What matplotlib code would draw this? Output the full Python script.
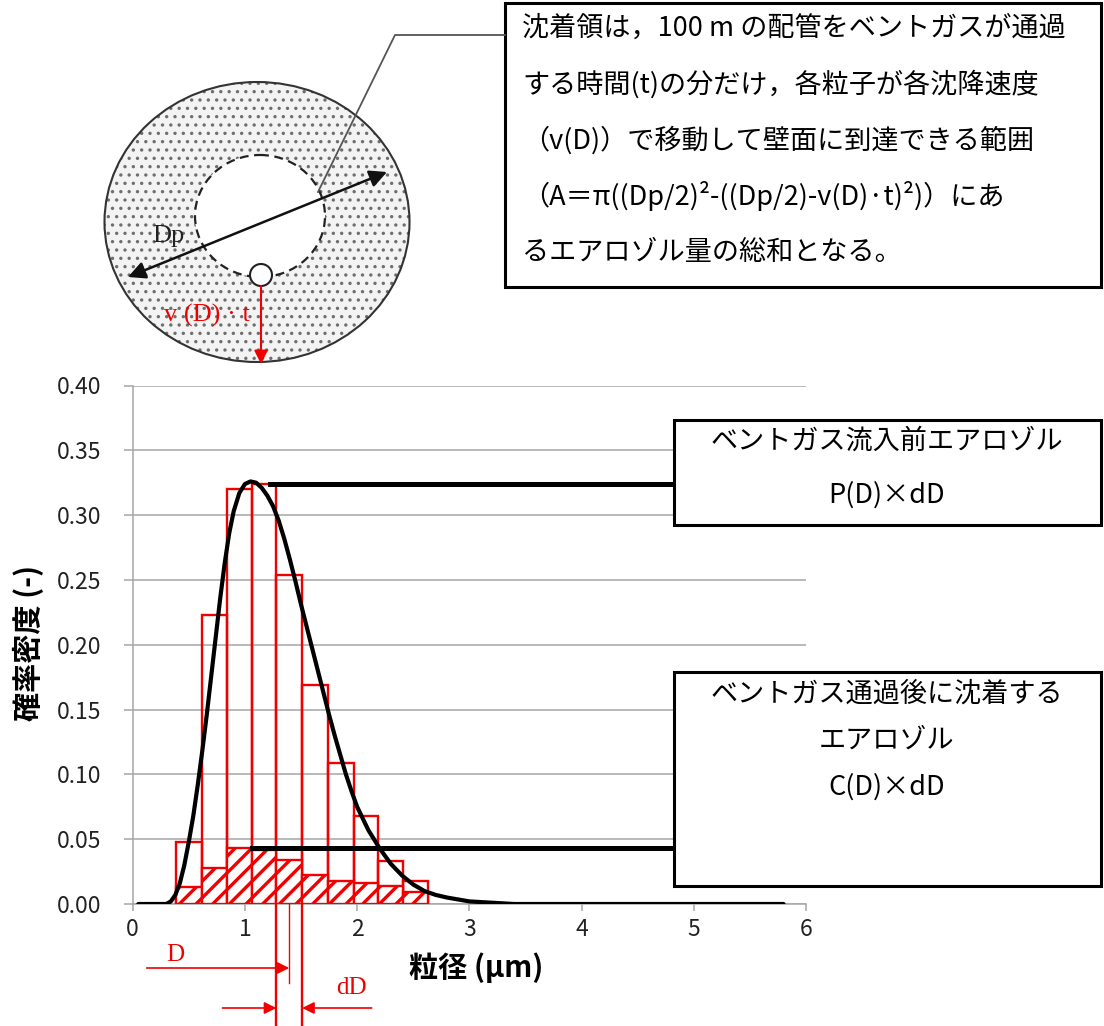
import numpy as np
import matplotlib
matplotlib.use("Agg")
import matplotlib.pyplot as plt
import matplotlib.transforms as mtransforms
from matplotlib.patches import Ellipse, Circle, Rectangle, FancyArrowPatch

plt.rcParams['font.family'] = ['Noto Sans CJK JP', 'DejaVu Sans']

# aerosol size distribution before the vent gas enters (curve)
curve_d = [0.05, 0.30, 0.34, 0.38, 0.42, 0.46, 0.50, 0.54, 0.58, 0.62, 0.66, 0.70,
           0.74, 0.78, 0.82, 0.86, 0.90, 0.95, 1.00, 1.05, 1.10, 1.15, 1.20, 1.25,
           1.30, 1.35, 1.40, 1.45, 1.50, 1.55, 1.60, 1.65, 1.70, 1.75, 1.80, 1.85,
           1.90, 1.95, 2.00, 2.10, 2.20, 2.30, 2.40, 2.50, 2.60, 2.70, 2.80, 3.00,
           3.20, 3.40, 4.00, 5.00, 5.80]
curve_p = [0.0, 0.0, 0.002, 0.007, 0.016, 0.030, 0.048, 0.068, 0.092, 0.118, 0.146, 0.176,
           0.206, 0.236, 0.263, 0.286, 0.303, 0.317, 0.324, 0.326, 0.325, 0.321, 0.315, 0.307,
           0.296, 0.282, 0.266, 0.249, 0.231, 0.214, 0.197, 0.180, 0.163, 0.146, 0.130, 0.115,
           0.100, 0.087, 0.075, 0.057, 0.043, 0.031, 0.022, 0.015, 0.010, 0.007, 0.005, 0.002,
           0.001, 0.0, 0.0, 0.0, 0.0]

# histogram classes: P(D)xdD (open bars) and deposited C(D)xdD (hatched bars)
bin_edges = [0.386, 0.615, 0.843, 1.06, 1.28, 1.51, 1.74, 1.97, 2.19, 2.41, 2.63]
p_dd = [0.048, 0.223, 0.320, 0.324, 0.254, 0.169, 0.109, 0.068, 0.033, 0.018]
c_dd = [0.013, 0.028, 0.043, 0.042, 0.034, 0.022, 0.018, 0.016, 0.014, 0.009]
d_class = 4  # class used to explain D and dD

yticks = [0.0, 0.05, 0.10, 0.15, 0.20, 0.25, 0.30, 0.35, 0.40]
xticks = [0, 1, 2, 3, 4, 5, 6]

note_lines = ['沈着領は，100 m の配管をベントガスが通過',
              'する時間(t)の分だけ，各粒子が各沈降速度',
              '（v(D)）で移動して壁面に到達できる範囲',
              '（A＝π((Dp/2)²-((Dp/2)-v(D)·t)²)）にあ',
              'るエアロゾル量の総和となる。']
p_lines = ['ベントガス流入前エアロゾル', 'P(D)×dD']
c_lines = ['ベントガス通過後に沈着する', 'エアロゾル', 'C(D)×dD']

W, H = 1104, 1026
RED = '#f00000'
GRID = '#a6a6a6'
SERIF = ['Liberation Serif', 'DejaVu Serif']

fig = plt.figure(figsize=(W / 100, H / 100), dpi=100)
ax = fig.add_axes([132.7 / W, (H - 904) / H, 673.3 / W, 518.5 / H])

edges = np.array(bin_edges)
widths = np.diff(edges)
ax.bar(edges[:-1], p_dd, width=widths, align='edge', facecolor='none',
       edgecolor=RED, linewidth=1.7, zorder=3)
with plt.rc_context({'hatch.linewidth': 2.4}):
    ax.bar(edges[:-1], c_dd, width=widths, align='edge', facecolor='white',
           edgecolor=RED, linewidth=1.7, hatch='//', zorder=4)
ax.plot(curve_d, curve_p, color='black', linewidth=3.0, zorder=5,
        solid_capstyle='round')

# leader lines to the two labels
ax.plot([1.22, 4.9], [max(p_dd), max(p_dd)], color='black', lw=3.6, zorder=6,
        clip_on=False)
ax.plot([edges[3], 4.9], [max(c_dd), max(c_dd)], color='black', lw=3.6, zorder=6,
        clip_on=False)

ax.set_xlim(0, 6)
ax.set_ylim(0, 0.40)
ax.set_yticks(yticks)
ax.set_yticklabels([f'{v:.2f}' for v in yticks])
ax.set_xticks(xticks)
ax.grid(axis='y', color=GRID, linewidth=1.1, zorder=0)
ax.set_axisbelow(True)
for s in ['top', 'right']:
    ax.spines[s].set_visible(False)
for s in ['left', 'bottom']:
    ax.spines[s].set_color(GRID)
    ax.spines[s].set_linewidth(1.1)
ax.tick_params(axis='y', length=6.5, width=1.1, color=GRID, pad=16, labelsize=16.5,
               labelcolor='#222222')
ax.tick_params(axis='x', length=5, width=1.1, color=GRID, pad=5, labelsize=16.5,
               labelcolor='#222222')

fig.text(28 / W, 1 - 643 / H, '確率密度 (-)', rotation=90, ha='center', va='center',
         fontsize=21, fontweight='bold')
fig.text(476 / W, 1 - 968 / H, '粒径 (µm)', ha='center', va='center',
         fontsize=21, fontweight='bold')

# overlay in pixel coordinates for the sketch and the text boxes
ov = fig.add_axes([0, 0, 1, 1], zorder=5)
ov.set_xlim(0, W)
ov.set_ylim(H, 0)
ov.axis('off')
ov.patch.set_alpha(0)

# D / dD markers below the x axis (x in data units, y in pixels)
bt = mtransforms.blended_transform_factory(ax.transData, ov.transData)
d_lo, d_hi = edges[d_class], edges[d_class + 1]
d_mid = (d_lo + d_hi) / 2
for xv in (d_lo, d_hi):
    ov.plot([xv, xv], [904, H], color=RED, lw=1.7, transform=bt)
ov.plot([d_mid, d_mid], [904, 983], color=RED, lw=1.0, transform=bt)
ov.add_patch(FancyArrowPatch((0.125, 968), (d_mid, 968), transform=bt,
                             arrowstyle='-|>', mutation_scale=18, color=RED, lw=1.2,
                             shrinkA=0, shrinkB=0))
ov.add_patch(FancyArrowPatch((0.80, 1008), (d_lo, 1008), transform=bt,
                             arrowstyle='-|>', mutation_scale=18, color=RED, lw=1.2,
                             shrinkA=0, shrinkB=0))
ov.add_patch(FancyArrowPatch((2.13, 1008), (d_hi, 1008), transform=bt,
                             arrowstyle='-|>', mutation_scale=18, color=RED, lw=1.2,
                             shrinkA=0, shrinkB=0))
ov.text(0.38, 955, 'D', transform=bt, color=RED, fontsize=18, ha='center', va='center',
        family=SERIF)
ov.text(1.95, 988, 'dD', transform=bt, color=RED, fontsize=18, ha='center', va='center',
        family=SERIF)

# pipe cross-section sketch
with plt.rc_context({'hatch.linewidth': 1.2}):
    ov.add_patch(Ellipse((257, 222), 305, 280, facecolor='#f3f3f3', edgecolor='#6e6e6e',
                         hatch='..', linewidth=0))
ov.add_patch(Ellipse((257, 222), 305, 280, facecolor='none', edgecolor='#333333',
                     linewidth=1.5))
ov.add_patch(Ellipse((260, 216), 130, 122, facecolor='white', edgecolor='#222222',
                     linewidth=1.6, linestyle=(0, (4, 2.5))))
ov.add_patch(Circle((261, 275), 11, facecolor='white', edgecolor='#222222', linewidth=1.5))
ov.add_patch(FancyArrowPatch((128, 277), (387, 172), arrowstyle='<|-|>', mutation_scale=26,
                             color='#111111', lw=1.8, shrinkA=0, shrinkB=0))
ov.add_patch(FancyArrowPatch((261, 286), (261, 364), arrowstyle='-|>', mutation_scale=20,
                             color=RED, lw=1.5, shrinkA=0, shrinkB=0))
ov.text(168, 236, 'Dp', fontsize=19, ha='center', va='center', color='#222222',
        family=SERIF)
ov.text(207, 315, 'v (D) · t', fontsize=19, ha='center', va='center', color=RED,
        family=SERIF)
ov.plot([505, 395, 318], [35, 35, 192], color='#555555', lw=1.3)

# text boxes
ov.add_patch(Rectangle((505, 3), 596, 284, facecolor='white', edgecolor='black', lw=2.2))
for i, line in enumerate(note_lines):
    ov.text(522, 28 + 56 * i, line, fontsize=19.5, ha='left', va='center')

ov.add_patch(Rectangle((674, 420), 427, 105, facecolor='white', edgecolor='black', lw=2.2))
for i, line in enumerate(p_lines):
    ov.text(887, 441 + 54 * i, line, fontsize=19.5, ha='center', va='center')

ov.add_patch(Rectangle((674, 672), 427, 214, facecolor='white', edgecolor='black', lw=2.2))
for i, line in enumerate(c_lines):
    ov.text(887, 694 + 46.5 * i, line, fontsize=19.5, ha='center', va='center')

fig.savefig('out.png', dpi=100)
